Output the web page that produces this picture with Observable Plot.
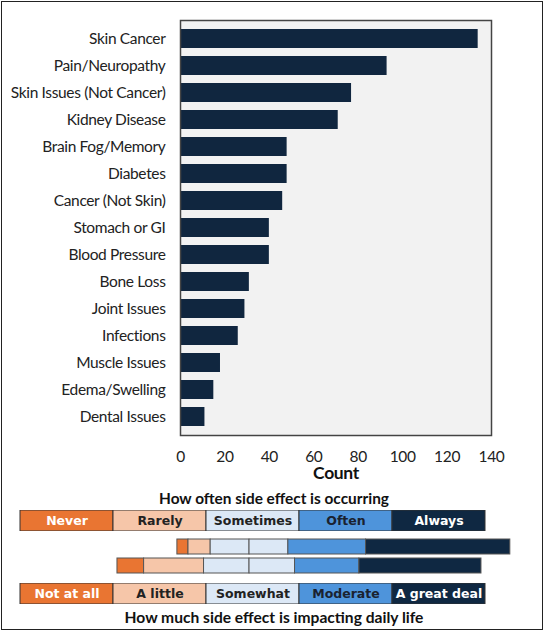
<!DOCTYPE html>
<html>
<head>
<meta charset="UTF-8">
<script src="https://cdn.jsdelivr.net/npm/d3@7"></script>
<script src="https://cdn.jsdelivr.net/npm/@observablehq/plot@0.6"></script>
<style>
  body { margin: 0; background: #fff; }
  #wrap { position: relative; width: 544px; height: 631px; font-family: Lato, "Open Sans", sans-serif; }
  #wrap > div { position: absolute; left: 0; }
  #border { top: 1px !important; left: 1px !important; right: 1px; bottom: 1px; border: 1.5px solid #222; }
  .ttl { width: 548px; text-align: center; font-weight: bold; color: #111; }
  #main text { letter-spacing: -0.35px; }
</style>
</head>
<body>
<div id="wrap">
  <div id="main" style="top:0"></div>
  <div class="ttl" style="top:489px;font-size:15.4px">How often side effect is occurring</div>
  <div id="leg1" style="top:510px"></div>
  <div id="rows" style="top:534px"></div>
  <div id="leg2" style="top:583px"></div>
  <div class="ttl" style="top:608px;font-size:15.6px">How much side effect is impacting daily life</div>
  <div id="border"></div>
</div>
<script>
// side effects, top to bottom
const effects = ["Skin Cancer", "Pain/Neuropathy", "Skin Issues (Not Cancer)", "Kidney Disease",
  "Brain Fog/Memory", "Diabetes", "Cancer (Not Skin)", "Stomach or GI", "Blood Pressure",
  "Bone Loss", "Joint Issues", "Infections", "Muscle Issues", "Edema/Swelling", "Dental Issues"];
const counts = [134, 93, 77, 71, 48, 48, 46, 40, 40, 31, 29, 26, 18, 15, 11];
const xTicks = [0, 20, 40, 60, 80, 100, 120, 140];

// the two scale legends and the two stacked rows
const freqLabels = ["Never", "Rarely", "Sometimes", "Often", "Always"];
const impactLabels = ["Not at all", "A little", "Somewhat", "Moderate", "A great deal"];
const freqValues = [5, 10, 35, 35, 65];
const impactValues = [12, 27, 41, 29, 55];
const fills = ["#e97532", "#f6c6a9", "#dce8f6", "#4e94db", "#0f2842"];
const textFills = ["#fff", "#222", "#222", "#1a2230", "#fff"];

const navy = "#10263f";
const data = effects.map((name, i) => ({name, count: counts[i]}));

const main = Plot.plot({
  width: 544,
  height: 484,
  marginLeft: 180,
  marginRight: 53,
  marginTop: 20,
  marginBottom: 49,
  style: {fontFamily: "Lato, sans-serif", color: "#222"},
  x: {domain: [0, 140]},
  y: {domain: effects, padding: 0.3},
  marks: [
    Plot.frame({fill: "#f2f2f2"}),
    Plot.barX(data, {x: "count", y: "name", fill: navy}),
    Plot.frame({stroke: "#444", strokeWidth: 1.5}),
    Plot.axisY({tickSize: 0, tickPadding: 15, fontSize: 15.5, label: null}),
    Plot.axisX({ticks: xTicks, tickSize: 0, tickPadding: 15, fontSize: 15.5, label: null}),
    Plot.text(["Count"], {frameAnchor: "bottom", lineAnchor: "middle", dy: 38, fontSize: 17.5, fontWeight: "bold", fill: "#111"})
  ]
});
document.querySelector("#main").append(main);

function legendRow(labels, right) {
  const rows = labels.map((label, i) => ({label, fill: fills[i], text: textFills[i]}));
  return Plot.plot({
    width: 544,
    height: 21,
    marginLeft: 18,
    marginRight: right,
    marginTop: 0,
    marginBottom: 0,
    style: {fontFamily: "'DejaVu Sans', sans-serif"},
    x: {domain: labels, padding: 0, axis: null},
    color: {type: "identity"},
    marks: [
      Plot.cell(rows, {x: "label", fill: "fill", stroke: "#333", strokeWidth: 1, inset: 0}),
      Plot.text(rows, {x: "label", text: "label", fill: "text", fontSize: 12.5, fontWeight: "bold"})
    ]
  });
}
document.querySelector("#leg1").append(legendRow(freqLabels, 58));
document.querySelector("#leg2").append(legendRow(impactLabels, 57));

// diverging rows: the middle category is split in half around zero
function segments(row, values) {
  const parts = [];
  let x = -(values[0] + values[1] + values[2] / 2);
  values.forEach((v, i) => {
    const halves = i === 2 ? [v / 2, v / 2] : [v];
    halves.forEach(h => {
      parts.push({row, x1: x, x2: x + h, fill: fills[i]});
      x += h;
    });
  });
  return parts;
}
const segs = segments("freq", freqValues).concat(segments("impact", impactValues));

const rows = Plot.plot({
  width: 544,
  height: 43,
  margin: 0,
  x: {domain: [-112.2, 132.9], axis: null},
  y: {domain: ["freq", "impact"], padding: 0.22, axis: null},
  color: {type: "identity"},
  marks: [
    Plot.barX(segs, {x1: "x1", x2: "x2", y: "row", fill: "fill", stroke: "#555", strokeWidth: 1, inset: 0})
  ]
});
document.querySelector("#rows").append(rows);
</script>
</body>
</html>
